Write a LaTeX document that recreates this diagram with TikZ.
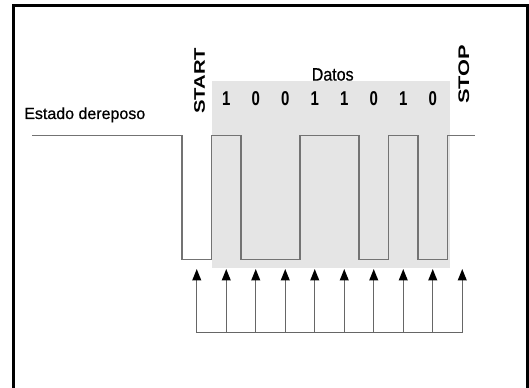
\documentclass[tikz,border=0pt]{standalone}
\usepackage{fontspec}
\setmainfont{Liberation Sans}
\newfontfamily\semib[FakeBold=0.6]{Liberation Sans}
\usetikzlibrary{arrows.meta}
\begin{document}
\begin{tikzpicture}[x=0.75pt,y=-0.75pt,
  frame/.style={line width=2.25pt,draw=black},
  wave/.style={line width=1.1pt,draw=black!55,line join=miter},
  clk/.style={line width=1.1pt,draw=black!60,-{Triangle[length=8.5pt,width=6.5pt,color=black]}},
  basel/.style={line width=1.1pt,draw=black!60},
  lbl/.style={inner sep=0pt,text=black}]
\useasboundingbox (0,0) rectangle (529,388);
\fill[white] (0,0) rectangle (529,388);
% shaded data area
\fill[black!10] (211.5,81) rectangle (450,268);
% waveform
\draw[wave] (32,135.5) -- (182,135.5) -- (182,259.3) -- (211.5,259.3) -- (211.5,135.5)
  -- (241,135.5) -- (241,259.3) -- (300,259.3) -- (300,135.5) -- (359,135.5)
  -- (359,259.3) -- (388.5,259.3) -- (388.5,135.5) -- (418,135.5) -- (418,259.3)
  -- (447.5,259.3) -- (447.5,135.5) -- (475,135.5);
% labels
\node[lbl, anchor=base west, font=\semib\fontsize{12}{14}\selectfont] (idle) at (24,119) {Estado dereposo};
\node[lbl, rotate=90, font=\bfseries\fontsize{11.5}{13}\selectfont] (start) at (199.5,81) {\scalebox{1.32}[1]{START}};
\node[lbl, rotate=90, font=\bfseries\fontsize{11.5}{13}\selectfont] (stop) at (463.8,74.2) {\scalebox{1.42}[1]{STOP}};
\node[lbl, font=\semib\fontsize{13.5}{15}\selectfont] (datos) at (332.7,74.5) {\scalebox{0.89}[1]{Datos}};
\foreach \d [count=\i] in {1,0,0,1,1,0,1,0}
  \node[lbl, font=\bfseries\fontsize{15}{17}\selectfont] (d\i) at ({196.75+29.5*\i},99) {\scalebox{0.75}[1]{\d}};
% sampling arrows
\foreach \i in {0,...,9} {
  \coordinate (b\i) at ({196.75+29.5*\i},332.7);
  \coordinate (t\i) at ({196.75+29.5*\i},269);
}
\draw[basel] (b0) -- (b9);
\foreach \i in {0,...,9}
  \draw[clk] (b\i) -- (t\i);
% frame
\draw[frame] (13,392) -- (13,5.5) -- (527,5.5) -- (527,392);
\end{tikzpicture}
\end{document}
